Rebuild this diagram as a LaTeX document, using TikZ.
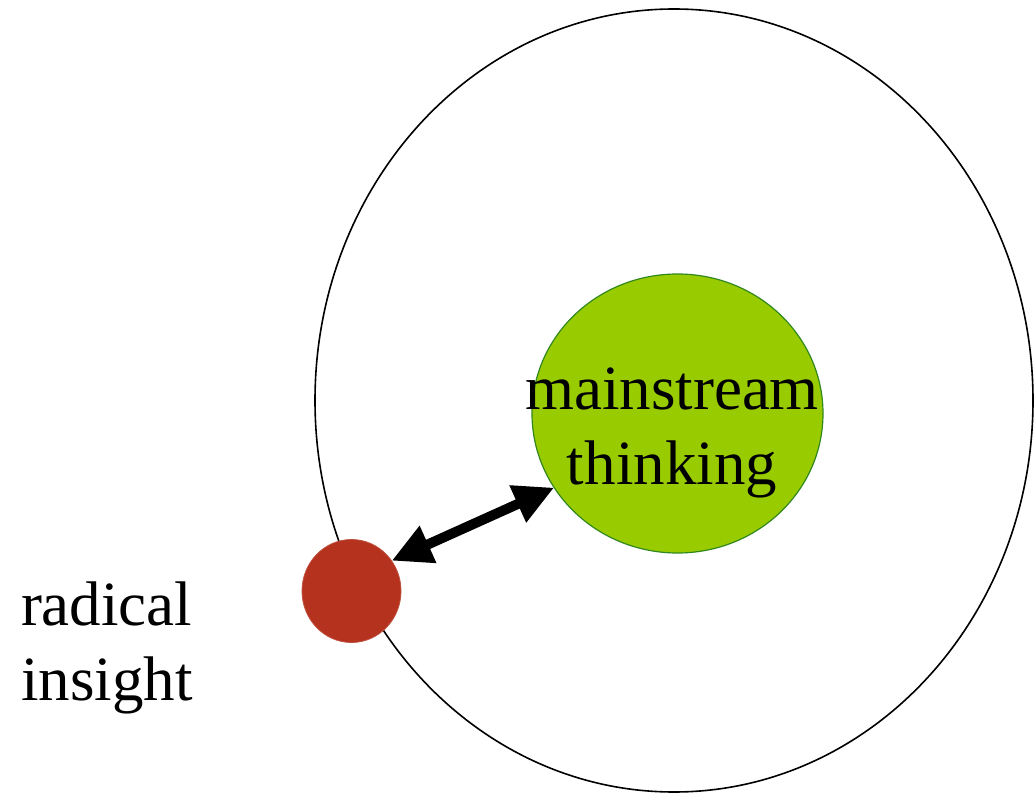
\documentclass[tikz,border=0pt]{standalone}
\usepackage{fontspec}
\setmainfont{Liberation Serif}
\usepackage{tikz}
\usetikzlibrary{arrows.meta, shapes.geometric}
\definecolor{mainfill}{RGB}{153,204,0}
\definecolor{mainedge}{RGB}{50,135,30}
\definecolor{radfill}{RGB}{180,50,30}
\newcommand{\bigtxt}{\fontsize{63}{75}\selectfont}

\begin{document}
\begin{tikzpicture}[x=1pt, y=-1pt, outer sep=0pt, inner sep=0pt,
    blob/.style={draw, ellipse}]
      \useasboundingbox (0, 0) rectangle (1034, 794);
      \node[blob, line width=1.6pt, minimum width=718pt, minimum height=783pt] (field) at (674, 400.5) {};
      \node[blob, draw=mainedge, fill=mainfill, line width=1.2pt, minimum width=291pt, minimum height=279pt] (main) at (677.5, 413.5) {};
      \node[blob, draw=radfill!85!white, fill=radfill, line width=0.8pt, minimum width=99pt, minimum height=103pt] (rad) at (351.5, 591) {};
      \node[anchor=base, align=center, font=\bigtxt] (mainlbl) at (672, 484) {mainstream\\thinking};
      \node[anchor=base west, align=left, font=\bigtxt] (radlbl) at (21, 700) {radical\\insight};
      \draw[{Triangle[length=40pt, width=38pt]}-{Triangle[length=40pt, width=38pt]}, line width=10pt] (rad.37) -- (main.211);
    \end{tikzpicture}
\end{document}
